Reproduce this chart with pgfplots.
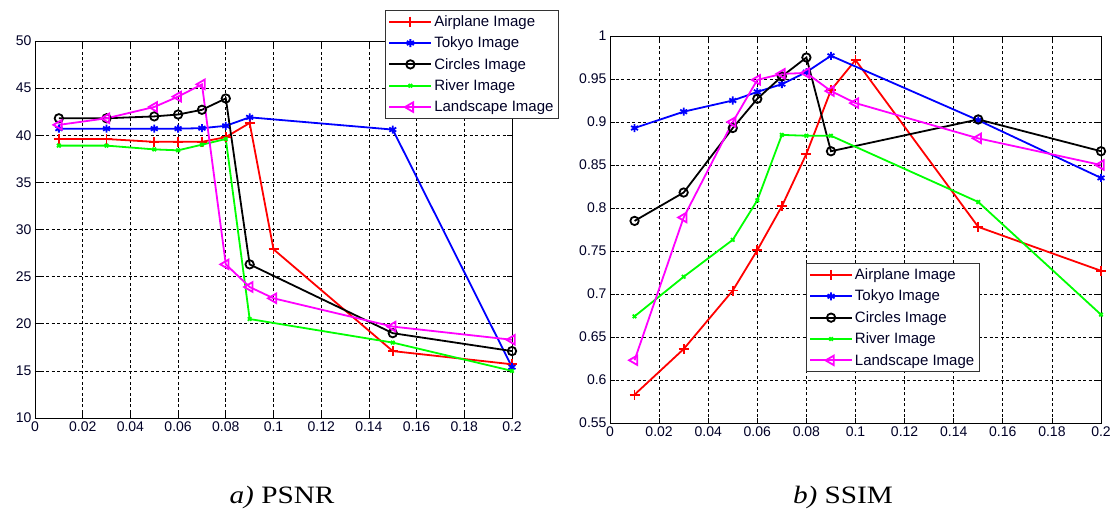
\documentclass[border=0pt]{standalone}
\usepackage{fontspec}
\setmainfont{Liberation Sans}
\newfontfamily\seriffont{Liberation Serif}
\usepackage{graphicx}
\usepackage{pgfplots}
\pgfplotsset{compat=1.18}

\definecolor{mred}{RGB}{255,0,0}
\definecolor{mblue}{RGB}{0,0,255}
\definecolor{mgreen}{RGB}{0,255,0}
\definecolor{mmag}{RGB}{255,0,255}

% psnr
\pgfplotstableread{
x    air   tok   cir   riv   lan
0.01 39.6  40.7  41.8  38.9  41.1
0.03 39.6  40.7  41.8  38.9  41.8
0.05 39.3  40.7  42.0  38.5  43.0
0.06 39.3  40.7  42.2  38.4  44.1
0.07 39.3  40.75 42.7  39.0  45.4
0.08 39.8  41.0  43.9  39.6  26.3
0.09 41.3  41.9  26.3  20.5  23.9
0.10 27.9  nan   nan   nan   22.7
0.15 17.1  40.6  19.0  18.0  19.7
0.20 15.7  15.4  17.1  15.0  18.3
}\psnr

% ssim
\pgfplotstableread{
x    air   tok   cir   riv   lan
0.01 0.583 0.893 0.785 0.674 0.623
0.03 0.636 0.912 0.818 0.720 0.789
0.05 0.704 0.925 0.893 0.763 0.900
0.06 0.751 0.935 0.927 0.809 0.949
0.07 0.802 0.944 0.953 0.885 0.956
0.08 0.863 0.958 0.975 0.884 0.957
0.09 0.937 0.977 0.866 0.884 0.936
0.10 0.972 nan   nan   nan   0.922
0.15 0.778 0.902 0.903 0.807 0.881
0.20 0.727 0.835 0.866 0.676 0.850
}\ssim

\pgfplotsset{
  mstyle/.style={
    scale only axis,
    xmin=0, xmax=0.2,
    xtick={0,0.02,0.04,0.06,0.08,0.1,0.12,0.14,0.16,0.18,0.2},
    grid=major,
    major grid style={black, line width=0.7pt, dash pattern=on 3pt off 2.5pt},
    axis line style={black, line width=0.9pt},
    tick style={black, line width=0.7pt},
    tick align=inside,
    major tick length=5pt,
    ticklabel style={font=\fontsize{14}{16}\selectfont, text=black!85!blue},
    /pgf/number format/assume math mode=true,
    /pgf/number format/fixed,
    /pgf/number format/precision=2,
    unbounded coords=discard,
    legend cell align=left,
    legend style={font=\fontsize{15}{17}\selectfont, draw=black!80, line width=0.9pt,
      fill=white, inner xsep=3pt, inner ysep=3pt, row sep=5pt,
      text=black!85!blue},
    legend image code/.code={\draw[line width=1.8pt, mark repeat=2,mark phase=2]
      plot coordinates {(0pt,0pt) (21pt,0pt) (42pt,0pt)};},
  },
  sair/.style={color=mred, line width=1.8pt, mark=+, mark size=5pt},
  stok/.style={color=mblue, line width=1.8pt, mark=asterisk, mark size=4pt},
  scir/.style={color=black, line width=1.8pt, mark=o, mark size=4.2pt},
  sriv/.style={color=mgreen, line width=1.8pt, mark=x, mark size=2.5pt},
  slan/.style={color=mmag, line width=1.8pt, mark=triangle, mark size=5.5pt, mark options={rotate=90}},
}

\begin{document}
\begin{tikzpicture}
\path[use as bounding box] (0pt,0pt) rectangle (1115pt,511pt);

\begin{axis}[mstyle,
  at={(35pt,93pt)}, anchor=south west,
  width=477pt, height=377pt,
  ymin=10, ymax=50,
  ytick={10,15,20,25,30,35,40,45,50},
  legend style={at={(1.0985,1.0822)}, anchor=north east},
]
\addplot[sair] table[x=x,y=air]{\psnr};
\addplot[stok] table[x=x,y=tok]{\psnr};
\addplot[scir] table[x=x,y=cir]{\psnr};
\addplot[sriv] table[x=x,y=riv]{\psnr};
\addplot[slan] table[x=x,y=lan]{\psnr};
\legend{Airplane Image,Tokyo Image,Circles Image,River Image,Landscape Image}
\end{axis}

\begin{axis}[mstyle,
  at={(610pt,88pt)}, anchor=south west,
  width=491pt, height=387pt,
  ymin=0.55, ymax=1,
  ytick={0.55,0.6,0.65,0.7,0.75,0.8,0.85,0.9,0.95,1},
  legend style={at={(0.3986,0.4127)}, anchor=north west},
]
\addplot[sair] table[x=x,y=air]{\ssim};
\addplot[stok] table[x=x,y=tok]{\ssim};
\addplot[scir] table[x=x,y=cir]{\ssim};
\addplot[sriv] table[x=x,y=riv]{\ssim};
\addplot[slan] table[x=x,y=lan]{\ssim};
\legend{Airplane Image,Tokyo Image,Circles Image,River Image,Landscape Image}
\end{axis}

\node[anchor=base, inner sep=0pt] at (282pt,8pt)
  {\scalebox{1.17}[1]{\seriffont\fontsize{25}{28}\selectfont\textit{a)} PSNR}};
\node[anchor=base, inner sep=0pt] at (843pt,8pt)
  {\scalebox{1.17}[1]{\seriffont\fontsize{25}{28}\selectfont\textit{b)} SSIM}};
\end{tikzpicture}
\end{document}
